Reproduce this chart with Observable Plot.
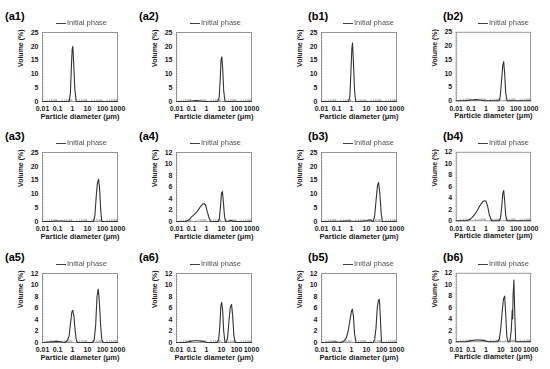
<!DOCTYPE html>
<html><head><meta charset="utf-8">
<script src="https://cdn.jsdelivr.net/npm/d3@7"></script>
<script src="https://cdn.jsdelivr.net/npm/@observablehq/plot@0.6"></script>
<style>
body{margin:0;background:#fff;font-family:"Liberation Sans",Arial,sans-serif;}
#wrap{position:relative;width:550px;height:369px;overflow:hidden;background:#fff;}
.pn{position:absolute;}
.lab{position:absolute;font-size:11px;font-weight:bold;line-height:11px;color:#000;white-space:nowrap;}
.leg{position:absolute;font-size:7.5px;line-height:8px;color:#555;white-space:nowrap;will-change:transform;-webkit-font-smoothing:antialiased;}
.leg .ln{display:inline-block;width:10px;height:0;border-top:1.2px solid #404040;vertical-align:middle;margin-right:1px;}
</style></head><body><div id="wrap"></div>
<script>
// ---- data (particle diameter in µm, volume in %) ----
const xTicks = [0.01, 0.1, 1, 10, 100, 1000];
const yTicks25 = [0, 5, 10, 15, 20, 25];
const yTicks12 = [0, 2, 4, 6, 8, 10, 12];
const legendLabel = "Initial phase";
const xTitle = "Particle diameter (μm)";
const yTitle = "Volume (%)";

const a1_d = [0.01, 0.6, 0.72, 0.85, 0.95, 1.05, 1.2, 1.4, 1.75, 1000];
const a1_v = [0, 0, 3, 13, 19, 20, 14, 5, 0, 0];

const a2_d = [0.01, 0.05, 0.1, 0.2, 0.4, 0.7, 5.5, 7, 8.2, 9.3, 10.5, 12, 14, 17, 1000];
const a2_v = [0, 0, 0.2, 0.3, 0.2, 0, 0, 1.5, 8, 15, 16.2, 12, 4, 0, 0];

const b1_d = [0.01, 0.65, 0.78, 0.92, 1.05, 1.17, 1.35, 1.6, 1.9, 1000];
const b1_v = [0, 0, 2, 11, 19, 21.3, 14, 4, 0, 0];

const b2_d = [0.01, 0.05, 0.1, 0.2, 0.4, 0.8, 7.5, 9, 11, 13.5, 15.5, 18, 21, 26, 1000];
const b2_v = [0, 0, 0.3, 0.4, 0.3, 0, 0, 1.5, 7, 13, 14.3, 10, 3, 0, 0];

const a3_d = [0.01, 0.05, 0.1, 0.2, 0.4, 25, 31, 38, 46, 55, 64, 76, 90, 1000];
const a3_v = [0, 0, 0.2, 0.2, 0, 0, 2, 9, 14, 15.3, 12, 4, 0, 0];

const a4_d = [0.01, 0.04, 0.07, 0.1, 0.15, 0.25, 0.4, 0.58, 0.72, 0.88, 1.1, 1.45, 1.9, 6, 7.2, 8.5, 10, 11.5, 13.5, 16, 19, 30, 45, 60, 1000];
const a4_v = [0, 0, 0.3, 0.8, 1.2, 1.8, 2.6, 3.1, 3.1, 2.8, 1.8, 0.7, 0, 0, 0.5, 2.5, 5.0, 5.2, 3.2, 0.8, 0, 0.1, 0.2, 0, 0];

const b3_d = [0.01, 0.1, 0.5, 1, 5, 10, 14, 18, 22, 28, 35, 44, 54, 64, 78, 95, 115, 1000];
const b3_v = [0, 0.1, 0.2, 0.1, 0.1, 0.3, 0.5, 0.6, 0.3, 0, 2, 8, 13, 14.2, 10, 3, 0, 0];

const b4_d = [0.01, 0.05, 0.08, 0.12, 0.2, 0.3, 0.45, 0.65, 0.85, 1.0, 1.3, 1.7, 2.4, 8, 9.5, 11.5, 13.5, 15.5, 18, 21, 26, 1000];
const b4_v = [0, 0, 0.2, 0.6, 1.3, 2.1, 2.9, 3.4, 3.5, 3.4, 2.5, 1.0, 0, 0, 0.5, 2.5, 4.8, 5.3, 3.5, 1, 0, 0];

const a5_d = [0.01, 0.1, 0.3, 0.45, 0.6, 0.75, 0.9, 1.05, 1.25, 1.5, 1.8, 2.2, 22, 28, 35, 43, 52, 62, 75, 90, 110, 1000];
const a5_v = [0, 0.2, 0, 0.3, 1.2, 3.5, 5.3, 5.6, 4.5, 2, 0.4, 0, 0, 0.5, 3, 8, 9.3, 7, 3, 0.5, 0, 0];

const a6_d = [0.01, 0.04, 0.08, 0.15, 0.3, 0.6, 1, 5, 6.5, 7.8, 9, 10.3, 12, 14, 17, 21, 26, 32, 39, 47, 56, 67, 80, 1000];
const a6_v = [0, 0, 0.2, 0.3, 0.3, 0.2, 0, 0, 0.5, 3, 6.3, 7, 5.5, 2, 0, 0, 1, 4, 6.2, 6.6, 4.5, 1.2, 0, 0];

const b5_d = [0.01, 0.1, 0.2, 0.3, 0.45, 0.6, 0.8, 1.0, 1.15, 1.35, 1.6, 2, 28, 35, 43, 52, 62, 72, 85, 100, 1000];
const b5_v = [0, 0.1, 0, 0.2, 0.8, 2, 4, 5.5, 5.8, 4.5, 1.5, 0, 0, 0.5, 2.5, 6, 7.3, 7.5, 4, 0, 0];

const b6_d = [0.01, 0.05, 0.1, 0.2, 0.4, 0.8, 1.5, 6, 8, 10, 12.5, 15, 18, 21, 25, 30, 40, 50, 58, 62, 66, 75, 88, 100, 1000];
const b6_v = [0, 0, 0.2, 0.3, 0.3, 0.2, 0, 0, 0.5, 2.5, 5.5, 7.5, 8, 5, 1, 0, 0, 2, 5.5, 4, 8, 10.8, 4, 0, 0];

// ---- layout ----
const colLeft = [0, 134, 279, 414];
const rowTop = [0, 120, 241];
const panels = [
  {id: "a1", d: a1_d, v: a1_v, big: true, c: 0, r: 0},
  {id: "a2", d: a2_d, v: a2_v, big: true, c: 1, r: 0},
  {id: "b1", d: b1_d, v: b1_v, big: true, c: 2, r: 0},
  {id: "b2", d: b2_d, v: b2_v, big: true, c: 3, r: 0},
  {id: "a3", d: a3_d, v: a3_v, big: true, c: 0, r: 1},
  {id: "a4", d: a4_d, v: a4_v, big: false, c: 1, r: 1},
  {id: "b3", d: b3_d, v: b3_v, big: true, c: 2, r: 1},
  {id: "b4", d: b4_d, v: b4_v, big: false, c: 3, r: 1},
  {id: "a5", d: a5_d, v: a5_v, big: false, c: 0, r: 2},
  {id: "a6", d: a6_d, v: a6_v, big: false, c: 1, r: 2},
  {id: "b5", d: b5_d, v: b5_v, big: false, c: 2, r: 2},
  {id: "b6", d: b6_d, v: b6_v, big: false, c: 3, r: 2}
];

const wrap = document.getElementById("wrap");
const xMinor = [];
for (const dec of [0.01, 0.1, 1, 10, 100]) for (let k = 2; k <= 9; k++) xMinor.push(dec * k);

for (const p of panels) {
  const ymax = p.big ? 25 : 12;
  const yTicks = p.big ? yTicks25 : yTicks12;
  const yMinor = d3.range(0, ymax + 0.001, p.big ? 1 : 0.5);
  const data = p.d.map((x, i) => ({x, y: p.v[i]}));
  const left = colLeft[p.c], top = rowTop[p.r];
  const chart = Plot.plot({
    width: 137, height: 123,
    marginLeft: 42, marginRight: 20, marginTop: 32, marginBottom: 22,
    x: {type: "log", domain: [0.01, 1000]},
    y: {domain: [0, ymax]},
    style: {fontFamily: '"Liberation Sans", Arial, sans-serif', background: "transparent", overflow: "visible", color: "#1a1a1a"},
    marks: [
      Plot.ruleY(yMinor, {x1: 0.01, x2: 0.0128, stroke: "#8a8a8a", strokeWidth: 0.6}),
      Plot.ruleX(xMinor, {y1: 0, y2: ymax * 0.025, stroke: "#8a8a8a", strokeWidth: 0.6}),
      Plot.frame({stroke: "#8a8a8a", strokeWidth: 0.9}),
      Plot.line(data, {x: "x", y: "y", stroke: "#333", strokeWidth: 1.1}),
      Plot.axisX(xTicks, {tickSize: 0, tickPadding: 5, tickFormat: d => String(d), fontSize: 7, fontWeight: "bold", label: null}),
      Plot.axisY(yTicks, {tickSize: 0, tickPadding: 4, fontSize: 7, fontWeight: "bold", label: null}),
      Plot.text([xTitle], {text: d => d, frameAnchor: "bottom", dy: 17, fontSize: 7.5, fontWeight: "bold", fill: "#1a1a1a"}),
      Plot.text([yTitle], {text: d => d, frameAnchor: "left", dx: -22, rotate: -90, fontSize: 7, fontWeight: "bold", fill: "#1a1a1a"})
    ]
  });
  const div = document.createElement("div");
  div.className = "pn";
  div.style.left = left + "px";
  div.style.top = top + "px";
  div.appendChild(chart);
  wrap.appendChild(div);

  const isB = p.id[0] === "b";
  const lab = document.createElement("div");
  lab.className = "lab";
  lab.textContent = "(" + p.id + ")";
  lab.style.left = (left + (isB ? 29 : 5)) + "px";
  lab.style.top = (top + 10.5) + "px";
  wrap.appendChild(lab);

  const leg = document.createElement("div");
  leg.className = "leg";
  leg.innerHTML = '<span class="ln"></span>' + legendLabel;
  leg.style.left = (left + (isB ? 64 : 56)) + "px";
  leg.style.top = (top + 19) + "px";
  wrap.appendChild(leg);
}
</script></body></html>
